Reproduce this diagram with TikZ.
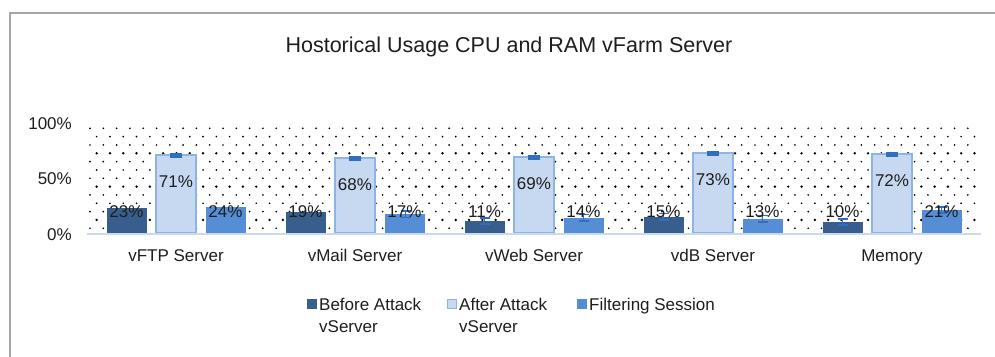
\documentclass[tikz,border=0pt]{standalone}
\usepackage{fontspec}
\setmainfont{Liberation Sans}
\definecolor{frameC}{HTML}{A6A6A6}
\definecolor{darkB}{HTML}{385E8E}
\definecolor{lightB}{HTML}{C6D9F1}
\definecolor{lightE}{HTML}{8EB4E3}
\definecolor{midB}{HTML}{558ED5}
\definecolor{errC}{HTML}{2F6EC0}
\definecolor{baseC}{HTML}{C9DAF0}
\definecolor{txtC}{HTML}{1E1E1E}
\tikzset{
  lbl/.style={inner sep=0pt, text=txtC, font=\fontsize{17}{20}\selectfont},
  ttl/.style={inner sep=0pt, text=txtC, font=\fontsize{21.5}{24}\selectfont},
  barD/.style={fill=darkB, draw=none},
  barL/.style={fill=lightB, draw=lightE, line width=1.6pt},
  barM/.style={fill=midB, draw=none},
  errbar/.style={draw=errC, line width=1.6pt},
  dotS/.style={fill=black}
}
\begin{document}
\begin{tikzpicture}[x=1pt,y=-1pt]
\useasboundingbox (0,0) rectangle (995,356);
\clip (0,0) rectangle (995,356);
\fill[white] (0,0) rectangle (995,356);
% frame
\draw[frameC, line width=2pt] (10,360) -- (10,13) -- (1000,13);
% title
\node[ttl, anchor=base] (title) at (509,52.5) {Hostorical Usage CPU and RAM vFarm Server};
% dotted pattern background
\foreach \r in {0,...,12} {
  \pgfmathsetmacro{\yy}{128.3+8.33*\r}
  \pgfmathsetmacro{\off}{mod(\r,2)==0 ? 0 : 6.65}
  \pgfmathsetmacro{\rad}{mod(\r,4)==3 ? 1.35 : 0.95}
  \foreach \c in {0,...,67} {
    \pgfmathsetmacro{\xx}{90+13.3*\c+\off}
    \ifdim\xx pt<979pt
      \fill[dotS] (\xx,\yy) circle (\rad pt);
    \fi
  }
}
% y axis labels
\node[lbl, anchor=base east] (y100) at (72,129) {100\%};
\node[lbl, anchor=base east] (y50) at (72,184) {50\%};
\node[lbl, anchor=base east] (y0) at (72,240) {0\%};
% bars: value v -> top y = 233 - 1.1 v
\foreach \i/\a/\b/\cc/\name in {0/23/71/24/vFTP Server,1/19/68/17/vMail Server,2/11/69/14/vWeb Server,3/15/73/13/vdB Server,4/10/72/21/Memory} {
  \pgfmathsetmacro{\cx}{176+179*\i}
  \pgfmathsetmacro{\ta}{233-1.1*\a}
  \pgfmathsetmacro{\tb}{233-1.1*\b}
  \pgfmathsetmacro{\tc}{233-1.1*\cc}
  \fill[barD] (\cx-69.5,\ta) rectangle (\cx-29.5,233);
  \draw[barL] (\cx-20,\tb) rectangle (\cx+20,233);
  \fill[barM] (\cx+29.5,\tc) rectangle (\cx+69.5,233);
  \fill[errC] (\cx-6,\tb-2) rectangle (\cx+6,\tb+3);
  \node[lbl, anchor=base] (cat\i) at (\cx,261.5) {\name};
}
% error bars on short bars (visible ones)
\foreach \x/\v in {405.5/17, 484.5/11, 583.5/14, 663.5/15, 762.5/13, 842.5/10, 941.5/21} {
  \pgfmathsetmacro{\t}{233-1.1*\v}
  \draw[errbar] (\x,\t-3.2) -- (\x,\t+3.2);
  \draw[errbar] (\x-5,\t-3.2) -- (\x+5,\t-3.2);
  \draw[errbar] (\x-5,\t+3.2) -- (\x+5,\t+3.2);
}
% baseline
\draw[baseC, line width=2pt] (87,233.5) -- (981,233.5);
% data labels
\foreach \i/\a/\b/\cc in {0/23/71/24,1/19/68/17,2/11/69/14,3/15/73/13,4/10/72/21} {
  \pgfmathsetmacro{\cx}{176+179*\i}
  \pgfmathsetmacro{\tb}{233-1.1*\b+32.5}
  \node[lbl, anchor=base] (da\i) at (\cx-49.5,217) {\a\%};
  \node[lbl, anchor=base] (db\i) at (\cx,\tb) {\b\%};
  \node[lbl, anchor=base] (dc\i) at (\cx+49.5,217) {\cc\%};
}
% legend
\fill[darkB] (307,299) rectangle (317,309);
\node[lbl, anchor=base west] (legA1) at (319,310) {Before Attack};
\node[lbl, anchor=base west] (legA2) at (319,332) {vServer};
\draw[fill=lightB, draw=lightE, line width=1.2pt] (447.6,299.6) rectangle (456.4,308.4);
\node[lbl, anchor=base west] (legB1) at (459,310) {After Attack};
\node[lbl, anchor=base west] (legB2) at (459,332) {vServer};
\fill[midB] (577,299) rectangle (587,309);
\node[lbl, anchor=base west] (legC1) at (589,310) {Filtering Session};
\end{tikzpicture}
\end{document}
